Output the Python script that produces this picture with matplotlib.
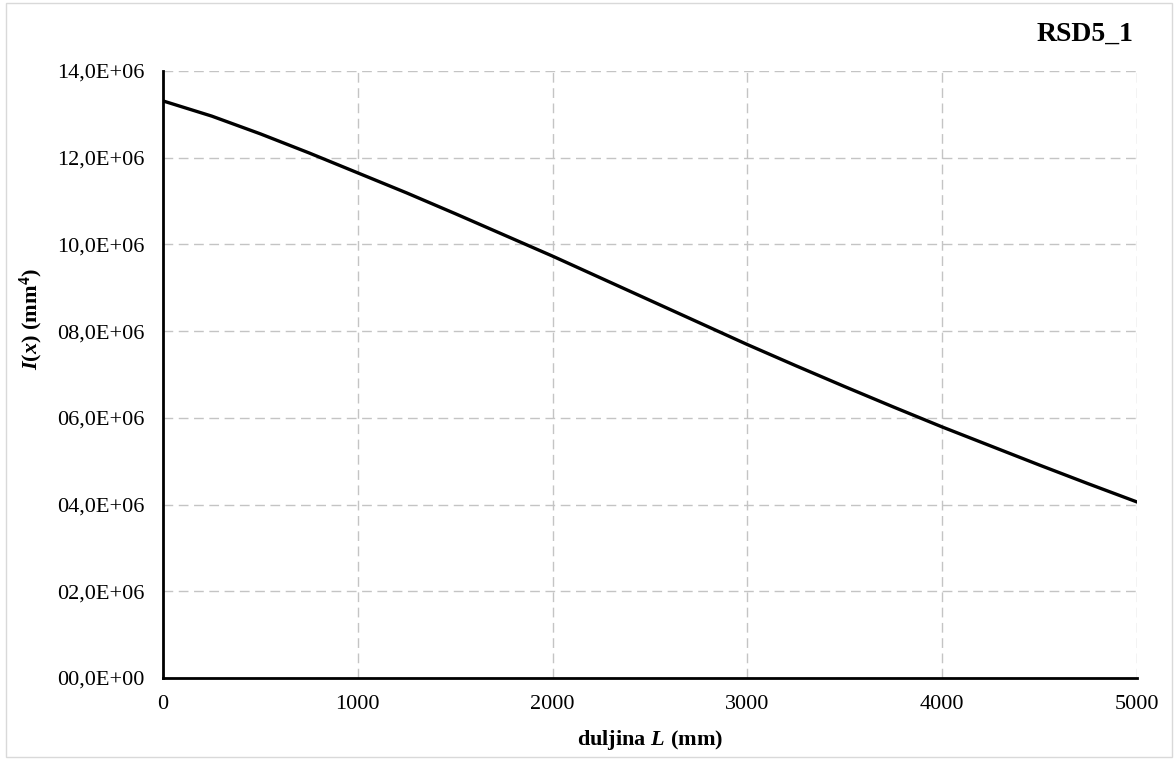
import matplotlib.pyplot as plt
import matplotlib.patches as patches
from matplotlib.ticker import FuncFormatter, MultipleLocator

# curve
L = [0, 250, 500, 750, 1000, 1250, 1500, 1750, 2000, 2250, 2500,
     2750, 3000, 3250, 3500, 3750, 4000, 4250, 4500, 4750, 5000]
I = [13.31e6, 12.96e6, 12.55e6, 12.11e6, 11.65e6, 11.19e6, 10.71e6, 10.22e6,
     9.73e6, 9.22e6, 8.71e6, 8.20e6, 7.69e6, 7.20e6, 6.72e6, 6.25e6,
     5.79e6, 5.35e6, 4.91e6, 4.48e6, 4.06e6]

title = "RSD5_1"

plt.rcParams['font.family'] = ['Liberation Serif', 'DejaVu Serif']
plt.rcParams['mathtext.fontset'] = 'custom'
plt.rcParams['mathtext.rm'] = 'Liberation Serif:bold'
plt.rcParams['mathtext.bf'] = 'Liberation Serif:bold'
plt.rcParams['mathtext.it'] = 'Liberation Serif:italic:bold'

fig = plt.figure(figsize=(11.74, 7.6), dpi=100)
ax = fig.add_axes([163/1174, 1-678/760, (1137-163)/1174, (678-71)/760])

# light frame round the whole chart
fig.patches.append(patches.Rectangle((6/1174, 3/760), (1172-6)/1174, (757-3)/760,
                                     transform=fig.transFigure, fill=False,
                                     edgecolor='#d9d9d9', linewidth=1))

ax.plot(L, I, color='black', linewidth=2.4, zorder=3, solid_joinstyle='round')

ax.set_xlim(0, 5000)
ax.set_ylim(0, 14e6)
ax.xaxis.set_major_locator(MultipleLocator(1000))
ax.yaxis.set_major_locator(MultipleLocator(2e6))


def fmt(v, pos):
    if v == 0:
        return "00,0E+00"
    return f"{v/1e6:04.1f}".replace('.', ',') + "E+06"


ax.yaxis.set_major_formatter(FuncFormatter(fmt))
ax.tick_params(axis='both', length=0, labelsize=16)
ax.tick_params(axis='y', pad=13)
ax.tick_params(axis='x', pad=12)

ax.grid(True, color='#c4c4c4', linestyle=(0, (7, 4)), linewidth=1)
ax.set_axisbelow(True)
for s in ['top', 'right']:
    ax.spines[s].set_visible(False)
for s in ['left', 'bottom']:
    ax.spines[s].set_linewidth(2)
    ax.spines[s].set_zorder(4)

ax.set_xlabel(r'$\mathrm{duljina}\ \mathit{L}\ (\mathrm{mm})$', fontsize=16, labelpad=10)
fig.text(31/1174, 1-319/760, r'$\mathit{I}(\mathit{x})\ (\mathrm{mm}^{4})$',
         rotation=90, fontsize=16, ha='center', va='center')

fig.text(1133/1174, 1-34/760, title, fontsize=20, fontweight='bold',
         ha='right', va='center')

fig.savefig("out.png", dpi=100)
